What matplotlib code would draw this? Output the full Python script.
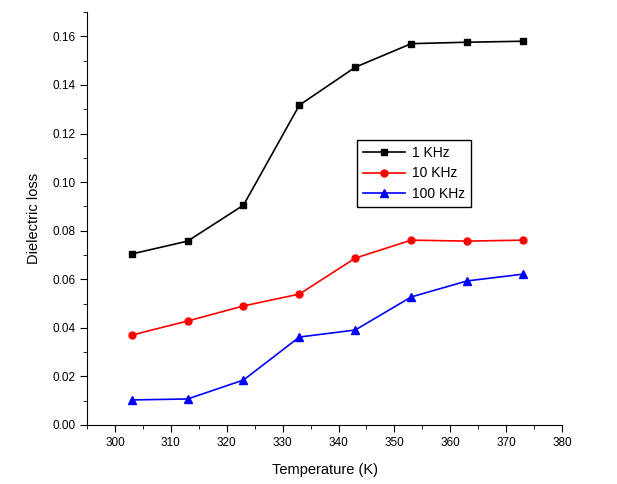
import matplotlib
matplotlib.use("Agg")
import matplotlib.pyplot as plt
from matplotlib.ticker import MultipleLocator

plt.rcParams['font.family'] = ['Liberation Sans', 'DejaVu Sans']

temp = [303, 313, 323, 333, 343, 353, 363, 373]
loss_1k = [0.0704, 0.0757, 0.0905, 0.1317, 0.1473, 0.1570, 0.1576, 0.1580]
loss_10k = [0.0370, 0.0428, 0.0490, 0.0539, 0.0687, 0.0761, 0.0757, 0.0761]
loss_100k = [0.0103, 0.0107, 0.0185, 0.0362, 0.0391, 0.0527, 0.0593, 0.0621]

fig = plt.figure(figsize=(6.17, 4.84), dpi=100)
ax = fig.add_axes([0.141, 0.122, 0.770, 0.853])

ax.plot(temp, loss_1k, 'k-s', ms=5, lw=1.2, label='1 KHz')
ax.plot(temp, loss_10k, 'r-o', ms=5, lw=1.2, label='10 KHz')
ax.plot(temp, loss_100k, 'b-^', ms=6, lw=1.2, label='100 KHz')

ax.set_xlim(295, 380)
ax.set_ylim(0, 0.17)
ax.xaxis.set_major_locator(MultipleLocator(10))
ax.xaxis.set_minor_locator(MultipleLocator(5))
ax.yaxis.set_major_locator(MultipleLocator(0.02))
ax.yaxis.set_minor_locator(MultipleLocator(0.01))
ax.yaxis.set_major_formatter(plt.FormatStrFormatter('%.2f'))
ax.spines['top'].set_visible(False)
ax.spines['right'].set_visible(False)
ax.tick_params(direction='out', length=5, labelsize=8.5)
ax.tick_params(which='minor', direction='out', length=3)

ax.set_xlabel('Temperature (K)', fontsize=10.5, labelpad=10)
ax.set_ylabel('Dielectric loss', fontsize=10.5, labelpad=8)

leg = ax.legend(loc='upper left', bbox_to_anchor=(0.579, 0.711), bbox_transform=fig.transFigure,
                borderaxespad=0, fancybox=False, edgecolor='black', framealpha=1, fontsize=10,
                handlelength=3.0, borderpad=0.45, labelspacing=0.45, handletextpad=0.5)
leg.get_frame().set_linewidth(1.0)

fig.savefig('out.png', dpi=100)
